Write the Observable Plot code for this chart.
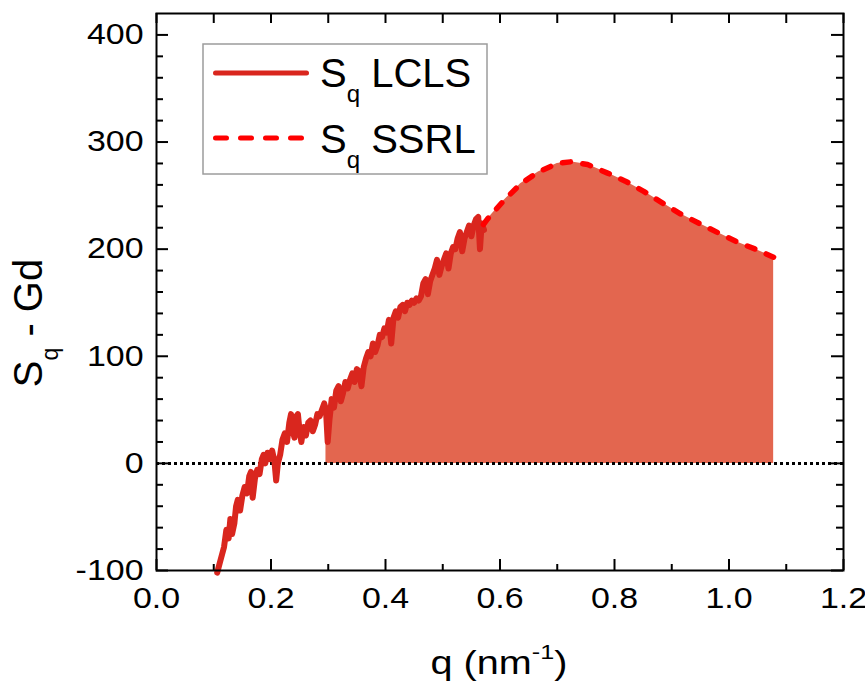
<!DOCTYPE html>
<html><head><meta charset="utf-8">
<script src="https://cdn.jsdelivr.net/npm/d3@7"></script>
<script src="https://cdn.jsdelivr.net/npm/@observablehq/plot@0.6"></script>
<style>body{margin:0;background:#fff;} #chart svg{display:block}</style>
</head><body><div id="chart"></div>
<script>
// LCLS (noisy, solid)
const lclsQ = [0.106,0.112,0.118,0.122,0.126,0.129,0.132,0.136,0.139,0.142,0.146,0.150,0.154,0.158,0.162,0.165,0.168,0.172,0.176,0.180,0.184,0.187,0.190,0.194,0.198,0.202,0.206,0.209,0.212,0.216,0.220,0.224,0.228,0.232,0.235,0.238,0.241,0.244,0.247,0.250,0.253,0.257,0.261,0.265,0.269,0.273,0.277,0.281,0.285,0.289,0.293,0.296,0.299,0.302,0.306,0.310,0.314,0.318,0.322,0.326,0.330,0.334,0.338,0.342,0.346,0.350,0.354,0.358,0.362,0.366,0.370,0.374,0.378,0.382,0.386,0.390,0.394,0.398,0.402,0.406,0.410,0.414,0.418,0.422,0.426,0.430,0.434,0.438,0.442,0.446,0.450,0.454,0.458,0.462,0.466,0.470,0.474,0.478,0.482,0.486,0.490,0.494,0.498,0.502,0.506,0.510,0.514,0.518,0.522,0.526,0.530,0.534,0.538,0.542,0.546,0.550,0.554,0.558,0.562,0.565,0.568,0.572];
const lclsS = [-102,-90,-78,-62,-70,-52,-66,-56,-40,-34,-44,-30,-22,-28,-12,-8,-32,-14,-6,-10,4,8,0,10,4,12,2,-16,0,8,22,28,20,38,46,30,24,44,46,30,20,34,26,38,40,30,36,46,44,50,56,50,20,40,60,52,68,72,58,66,76,70,78,84,76,88,86,72,90,98,104,100,112,104,110,120,118,126,122,134,112,136,142,136,146,148,142,150,148,152,150,154,152,156,168,172,158,170,176,182,190,176,184,190,196,182,196,202,200,210,216,198,210,216,222,212,222,228,230,200,224,218];
// SSRL (smooth, dashed)
const ssrlQ = [0.571,0.578,0.606,0.636,0.667,0.700,0.723,0.753,0.788,0.819,0.851,0.884,0.915,0.950,0.982,1.015,1.046,1.078];
const ssrlS = [223,228,245,261,272,280,281.5,279,271,263.5,254,243,233,223.5,215,206.5,200,192.5];
const fillStartQ = 0.296;
// ticks
const xMajor = [0,0.2,0.4,0.6,0.8,1.0,1.2];
const xMinor = [0.1,0.3,0.5,0.7,0.9,1.1];
const yMajor = [-100,0,100,200,300,400];
const yMinor = [-80,-60,-40,-20,20,40,60,80,120,140,160,180,220,240,260,280,320,340,360,380];
const legendLabels = ["LCLS","SSRL"];

const lcls = lclsQ.map((q,i)=>({q, s: lclsS[i]}));
const ssrl = ssrlQ.map((q,i)=>({q, s: ssrlS[i]}));
const lastL = lclsQ[lclsQ.length-1];
const area = lcls.filter(d=>d.q>=fillStartQ).concat(ssrl.filter(d=>d.q>lastL));

const W=865,H=685,mL=156,mR=22,mT=13,mB=115;
const PW=W-mL-mR, PH=H-mT-mB;
const tk = {stroke:"black", strokeWidth:2};

const chart = Plot.plot({
  width:W, height:H, marginLeft:mL, marginRight:mR, marginTop:mT, marginBottom:mB,
  x:{domain:[0,1.2], axis:null, label:null},
  y:{domain:[-100,420], axis:null, label:null},
  style:{fontFamily:"'Liberation Sans', Arial, sans-serif", background:"white", color:"black", overflow:"visible"},
  marks:[
    Plot.areaY(area, {x:"q", y:"s", fill:"#E3664F"}),
    Plot.ruleY([0], {stroke:"black", strokeWidth:3, strokeDasharray:"3,3"}),
    Plot.lineY(lcls, {x:"q", y:"s", stroke:"#D9261E", strokeWidth:6, strokeLinejoin:"round", strokeLinecap:"round"}),
    Plot.lineY(ssrl, {x:"q", y:"s", stroke:"#FF0000", strokeWidth:5.5, strokeDasharray:"8,12.5", strokeLinecap:"round", strokeLinejoin:"round"}),
    Plot.frame({stroke:"black", strokeWidth:2}),
    Plot.tickX(xMajor, {x:d=>d, insetTop:PH-11, ...tk}),
    Plot.tickX(xMinor, {x:d=>d, insetTop:PH-6, ...tk}),
    Plot.tickX(xMajor.concat(xMinor), {x:d=>d, insetBottom:PH-10, ...tk}),
    Plot.tickY(yMajor, {y:d=>d, insetRight:PW-12, ...tk}),
    Plot.tickY(yMinor, {y:d=>d, insetRight:PW-7, ...tk}),
    Plot.tickY(yMajor, {y:d=>d, insetLeft:PW-12, ...tk}),
    Plot.tickY(yMinor, {y:d=>d, insetLeft:PW-7, ...tk}),
    Plot.axisX(xMajor, {tickSize:0, tickPadding:17, tickFormat:d=>d.toFixed(1), fontSize:29, label:null}),
    Plot.axisY(yMajor, {tickSize:0, tickPadding:13, tickFormat:d=>String(d), fontSize:29, label:null})
  ]
});
document.getElementById("chart").appendChild(chart);

// stretch tick labels horizontally about their anchor point
chart.querySelectorAll('g[aria-label="x-axis tick label"] text, g[aria-label="y-axis tick label"] text').forEach(t=>{
  const tr = t.getAttribute("transform")||"";
  const ax = parseFloat(t.getAttribute("x"))||0;
  t.setAttribute("transform", `${tr} translate(${ax},0) scale(1.17,1) translate(${-ax},0)`);
});

const svg = d3.select(chart);
// x title
const xt = svg.append("text").attr("transform","translate(499,674) scale(1.2,1)")
  .attr("text-anchor","middle").attr("font-size",33).attr("fill","black");
xt.append("tspan").text("q (nm");
xt.append("tspan").attr("font-size",21).attr("dy",-15).text("-1");
xt.append("tspan").attr("dy",15).text(")");
// y title
const yt = svg.append("text").attr("transform","translate(42,323) rotate(-90)")
  .attr("text-anchor","middle").attr("font-size",40).attr("fill","black");
yt.append("tspan").text("S");
yt.append("tspan").attr("font-size",23).attr("dy",16).text("q");
yt.append("tspan").attr("dy",-16).text(" - Gd");
// legend
const lg = svg.append("g");
lg.append("rect").attr("x",203).attr("y",44).attr("width",284).attr("height",130)
  .attr("fill","white").attr("stroke","#9c9c9c").attr("stroke-width",1.5);
const rows = [{y:73, base:87, stroke:"#D9261E", dash:null},{y:138, base:153, stroke:"#FF0000", dash:"11,14"}];
rows.forEach((r,i)=>{
  const l = lg.append("line").attr("x1",215.5).attr("x2",306.5).attr("y1",r.y).attr("y2",r.y)
    .attr("stroke",r.stroke).attr("stroke-width",5).attr("stroke-linecap","round");
  if (r.dash) l.attr("stroke-dasharray",r.dash);
  const t = lg.append("text").attr("x",320).attr("y",r.base).attr("text-anchor","start")
    .attr("font-size",40).attr("fill","black");
  t.append("tspan").text("S");
  t.append("tspan").attr("font-size",24).attr("dy",15).text("q");
  t.append("tspan").attr("dy",-15).text("\u00a0"+legendLabels[i]);
});
</script>
</body></html>
